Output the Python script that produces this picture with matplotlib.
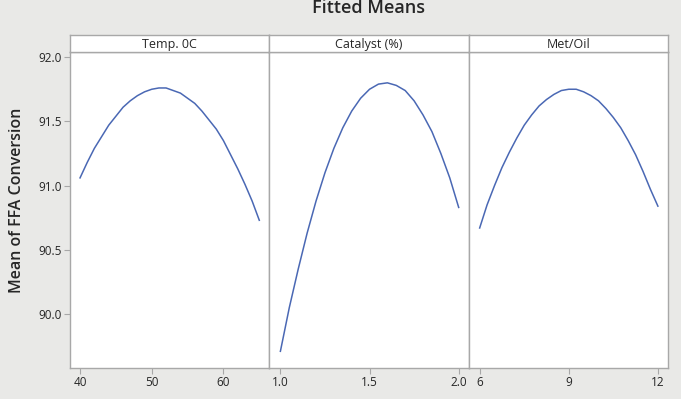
import matplotlib
matplotlib.use("Agg")
import matplotlib.pyplot as plt

# ---- data ----
temp = [40, 41, 42, 43, 44, 45, 46, 47, 48, 49, 50, 51, 52, 53, 54, 55,
        56, 57, 58, 59, 60, 61, 62, 63, 64, 65]
conv_temp = [91.06, 91.18, 91.29, 91.38, 91.47, 91.54, 91.61, 91.66, 91.70,
             91.73, 91.75, 91.76, 91.76, 91.74, 91.72, 91.68, 91.64, 91.58,
             91.51, 91.44, 91.35, 91.24, 91.13, 91.01, 90.88, 90.73]

catalyst = [1.00, 1.05, 1.10, 1.15, 1.20, 1.25, 1.30, 1.35, 1.40, 1.45, 1.50,
            1.55, 1.60, 1.65, 1.70, 1.75, 1.80, 1.85, 1.90, 1.95, 2.00]
conv_cat = [89.71, 90.05, 90.35, 90.63, 90.88, 91.10, 91.29, 91.45, 91.58,
            91.68, 91.75, 91.79, 91.80, 91.78, 91.74, 91.66, 91.55, 91.42,
            91.25, 91.06, 90.83]

metoil = [6, 6.25, 6.5, 6.75, 7, 7.25, 7.5, 7.75, 8, 8.25, 8.5, 8.75, 9,
          9.25, 9.5, 9.75, 10, 10.25, 10.5, 10.75, 11, 11.25, 11.5, 11.75, 12]
conv_met = [90.67, 90.85, 91.00, 91.14, 91.26, 91.37, 91.47, 91.55, 91.62,
            91.67, 91.71, 91.74, 91.75, 91.75, 91.73, 91.70, 91.66, 91.60,
            91.53, 91.45, 91.35, 91.24, 91.11, 90.97, 90.84]

panel_titles = ["Temp. 0C", "Catalyst (%)", "Met/Oil"]
xticks_list = [[40, 50, 60], [1.0, 1.5, 2.0], [6, 9, 12]]
xticklabels_list = [["40", "50", "60"], ["1.0", "1.5", "2.0"], ["6", "9", "12"]]
xlims = [(38.6, 66.4), (0.938, 2.056), (5.63, 12.34)]
yticks = [90.0, 90.5, 91.0, 91.5, 92.0]
yticklabels = ["90.0", "90.5", "91.0", "91.5", "92.0"]

series_x = [temp, catalyst, metoil]
series_y = [conv_temp, conv_cat, conv_met]

plt.rcParams['font.family'] = ['Open Sans', 'DejaVu Sans']

W, H = 681, 399
fig = plt.figure(figsize=(W / 100, H / 100), dpi=100)
bg = '#e9e9e7'
fig.patch.set_facecolor(bg)

left_px, right_px = 70, 668
bottom_px, top_px = 368, 52
head_top_px = 35
pw = (right_px - left_px) / 3
edge = '#a8a8a8'
line_color = '#4a68b4'
text_color = '#262626'

for i in range(3):
    x0 = (left_px + i * pw) / W
    ax = fig.add_axes([x0, 1 - bottom_px / H, pw / W, (bottom_px - top_px) / H])
    ax.set_facecolor('white')
    ax.plot(series_x[i], series_y[i], color=line_color, lw=1.1,
            solid_joinstyle='round')
    ax.set_xlim(*xlims[i])
    ax.set_ylim(89.58, 92.04)
    ax.set_xticks(xticks_list[i])
    ax.set_xticklabels(xticklabels_list[i])
    ax.set_yticks(yticks)
    if i == 0:
        ax.set_yticklabels(yticklabels)
    else:
        ax.tick_params(axis='y', left=False, labelleft=False)
    ax.tick_params(axis='both', direction='out', length=4, width=0.8,
                   color=edge, labelsize=8.5, labelcolor=text_color, pad=2)
    for s in ax.spines.values():
        s.set_color(edge)
        s.set_linewidth(1.0)
    # header strip
    hx = fig.add_axes([x0, 1 - top_px / H, pw / W, (top_px - head_top_px) / H])
    hx.set_facecolor('white')
    hx.set_xticks([])
    hx.set_yticks([])
    for s in hx.spines.values():
        s.set_color(edge)
        s.set_linewidth(1.0)
    hx.text(0.5, 0.45, panel_titles[i], ha='center', va='center',
            fontsize=9, color=text_color, transform=hx.transAxes)

fig.text(369 / W, 1 - 13 / H, "Fitted Means", ha='center', va='baseline',
         fontsize=13, color=text_color, fontweight='semibold')
fig.text(17 / W, 1 - 200 / H, "Mean of FFA Conversion", rotation=90,
         ha='center', va='center', fontsize=11.5, color=text_color,
         fontweight='semibold')

fig.savefig("out.png", dpi=100, facecolor=bg)
